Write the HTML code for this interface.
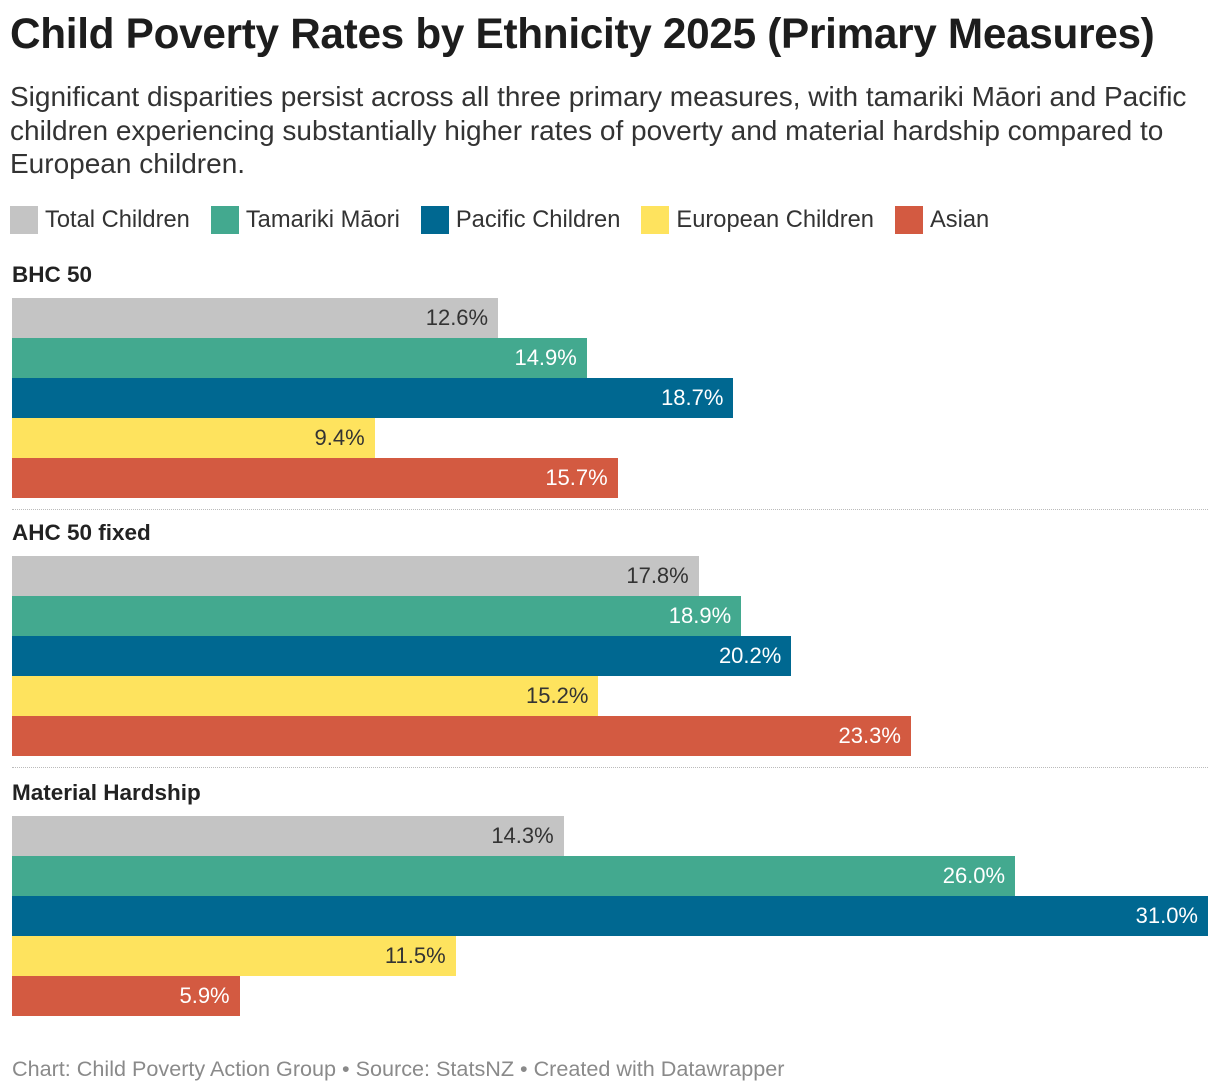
<!DOCTYPE html>
<html><head><meta charset="utf-8">
<style>
body{margin:0;background:#fff;width:1220px;height:1092px;overflow:hidden;font-family:"Liberation Sans",Roboto,sans-serif;color:#1d1d1d;position:relative}
.title{position:absolute;left:10px;top:10px;font-size:42.3px;font-weight:bold;letter-spacing:-0.3px;white-space:nowrap}
.sub{position:absolute;left:10px;top:80px;width:1210px;font-size:28px;line-height:33.5px;color:#333;white-space:nowrap}
.legend{position:absolute;left:10px;top:206px;display:flex;font-size:23.7px;color:#333;line-height:28px}
.li{display:flex;align-items:center;margin-right:21px}
.sw{width:28px;height:28px;margin-right:7px}
.glabel{position:absolute;left:12px;font-size:22.5px;font-weight:bold;color:#222}
.sep{position:absolute;left:12px;width:1196px;border-top:1px dotted #bbb}
.bar{position:absolute;left:12px;height:40px;box-sizing:border-box}
.val{position:absolute;font-size:22px;line-height:40px;text-align:right}
.foot{position:absolute;left:12px;top:1056px;font-size:21.6px;color:#8a8a8a}
</style></head><body>
<div class="title">Child Poverty Rates by Ethnicity 2025 (Primary Measures)</div>
<div class="sub">Significant disparities persist across all three primary measures, with tamariki Māori and Pacific<br>children experiencing substantially higher rates of poverty and material hardship compared to<br>European children.</div>
<div class="legend" id="legend"></div>
<div id="chart"></div>
<div class="foot">Chart: Child Poverty Action Group • Source: StatsNZ • Created with Datawrapper</div>
<script>
const groups=["BHC 50","AHC 50 fixed","Material Hardship"];
const series=["Total Children","Tamariki Māori","Pacific Children","European Children","Asian"];
const colors=["#c4c4c4","#43a98f","#006891","#fee35e","#d35a41"];
const textColors=["#333","#fff","#fff","#333","#fff"];
const bhc50=[12.6,14.9,18.7,9.4,15.7];
const ahc50=[17.8,18.9,20.2,15.2,23.3];
const hardship=[14.3,26.0,31.0,11.5,5.9];
const values=[bhc50,ahc50,hardship];
const maxV=31.0, width=1196;
const x=v=>v/maxV*width;
const lg=document.getElementById('legend');
series.forEach((s,i)=>{
 const d=document.createElement('div');d.className='li';
 
 
 d.innerHTML='<div class="sw" style="background:'+colors[i]+'"></div>'+s;
 lg.appendChild(d);
});
const ch=document.getElementById('chart');
const groupTops=[262,520,780];
groups.forEach((g,gi)=>{
 const top=groupTops[gi];
 const l=document.createElement('div');l.className='glabel';l.style.top=top+'px';l.textContent=g;
 
 
 ch.appendChild(l);
 values[gi].forEach((v,i)=>{
  const y=top+36+i*40;
  const b=document.createElement('div');b.className='bar';
  b.style.top=y+'px';b.style.width=x(v)+'px';b.style.background=colors[i];
  
  
  ch.appendChild(b);
  const t=document.createElement('div');t.className='val';
  t.style.top=y+'px';t.style.left=(12+x(v)-110)+'px';t.style.width='100px';t.style.color=textColors[i];
  t.textContent=v.toFixed(1)+'%';
  
  
  ch.appendChild(t);
 });
 if(gi<groups.length-1){
  const s=document.createElement('div');s.className='sep';s.style.top=(top+247)+'px';
  
  
  ch.appendChild(s);
 }
});
</script>
</body></html>
